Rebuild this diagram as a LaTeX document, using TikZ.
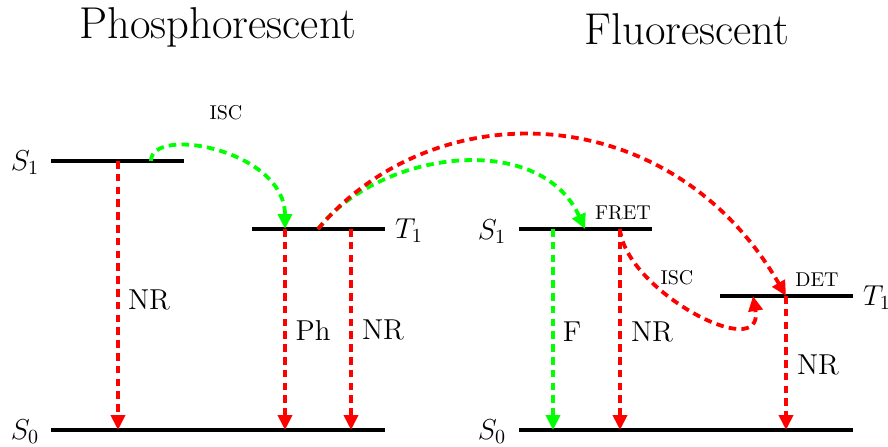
\documentclass[tikz,border=0pt]{standalone}
\usetikzlibrary{arrows.meta}
\definecolor{pred}{RGB}{255,0,0}
\definecolor{pgreen}{RGB}{0,255,0}
\begin{document}
\begin{tikzpicture}[x=0.5pt,y=-0.5pt,
  level/.style={line width=1.8pt},
  trans/.style={line width=1.9pt, dash pattern=on 3.8pt off 2.6pt, -{Triangle[length=7.5pt,width=7pt]}},
  statelbl/.style={font=\Large, anchor=base, inner sep=0pt},
  biglbl/.style={font=\Large, inner sep=0pt},
  smalllbl/.style={font=\normalsize, inner sep=0pt},
  titlelbl/.style={font=\fontsize{22.3}{26}\selectfont, anchor=base, inner sep=0pt}]
\useasboundingbox (0,0) rectangle (888,446);
% titles
\node[titlelbl] (tphos) at (218,38) {Phosphorescent};
\node[titlelbl] (tfluo) at (687,44) {Fluorescent};
% left levels
\coordinate (aS1w) at (51,161);  \coordinate (aS1e) at (184,161);
\coordinate (aT1w) at (252,229); \coordinate (aT1e) at (385,229);
\coordinate (aS0w) at (51,430);  \coordinate (aS0e) at (385,430);
% right levels
\coordinate (bS1w) at (519,229); \coordinate (bS1e) at (652,229);
\coordinate (bT1w) at (720,296); \coordinate (bT1e) at (853,296);
\coordinate (bS0w) at (519,430); \coordinate (bS0e) at (853,430);
\draw[level] (aS1w) -- (aS1e);
\draw[level] (aT1w) -- (aT1e);
\draw[level] (aS0w) -- (aS0e);
\draw[level] (bS1w) -- (bS1e);
\draw[level] (bT1w) -- (bT1e);
\draw[level] (bS0w) -- (bS0e);
% state labels
\node[statelbl] (laS1) at (25,170) {$S_1$};
\node[statelbl] (laT1) at (409,238) {$T_1$};
\node[statelbl] (laS0) at (25,439) {$S_0$};
\node[statelbl] (lbS1) at (492,239) {$S_1$};
\node[statelbl] (lbT1) at (877,305) {$T_1$};
\node[statelbl] (lbS0) at (492,439) {$S_0$};
% transition end points
\coordinate (n1s) at (118,161); \coordinate (n1e) at (118,430);
\coordinate (phs) at (285,229); \coordinate (phe) at (285,430);
\coordinate (n2s) at (351,229); \coordinate (n2e) at (351,430);
\coordinate (iscs) at (151,161);
\coordinate (tx) at (318,229);
\coordinate (fs) at (553,229);  \coordinate (fe) at (553,430);
\coordinate (fret) at (585,229);
\coordinate (n3s) at (620,229); \coordinate (n3e) at (620,430);
\coordinate (isce) at (753,296);
\coordinate (n4s) at (786,296); \coordinate (n4e) at (786,430);
% vertical transitions
\draw[trans, pred] (n1s) -- (n1e);
\draw[trans, pred] (phs) -- (phe);
\draw[trans, pred] (n2s) -- (n2e);
\draw[trans, pgreen] (fs) -- (fe);
\draw[trans, pred] (n3s) -- (n3e);
\draw[trans, pred] (n4s) -- (n4e);
% curved transitions
\draw[trans, pgreen] (iscs) .. controls (151,125) and (285,150) .. (phs);
\draw[trans, pgreen] (tx) .. controls (380,150) and (540,130) .. (fret);
\draw[trans, pred] (tx) .. controls (434,91) and (671,97) .. (n4s);
\draw[trans, pred] (n3s) .. controls (625,290) and (765,365) .. (isce);
% labels
\node[biglbl] (lnr1) at (149,300) {NR};
\node[biglbl] (lph) at (313,330) {Ph};
\node[biglbl] (lnr2) at (383,330) {NR};
\node[biglbl] (lf) at (572,332) {F};
\node[biglbl] (lnr3) at (652,332) {NR};
\node[biglbl] (lnr4) at (818,365) {NR};
\node[smalllbl] (lisc1) at (226,113) {ISC};
\node[smalllbl] (lfret) at (623,213) {FRET};
\node[smalllbl] (ldet) at (817,280) {DET};
\node[smalllbl] (lisc2) at (677,278) {ISC};
\end{tikzpicture}
\end{document}
